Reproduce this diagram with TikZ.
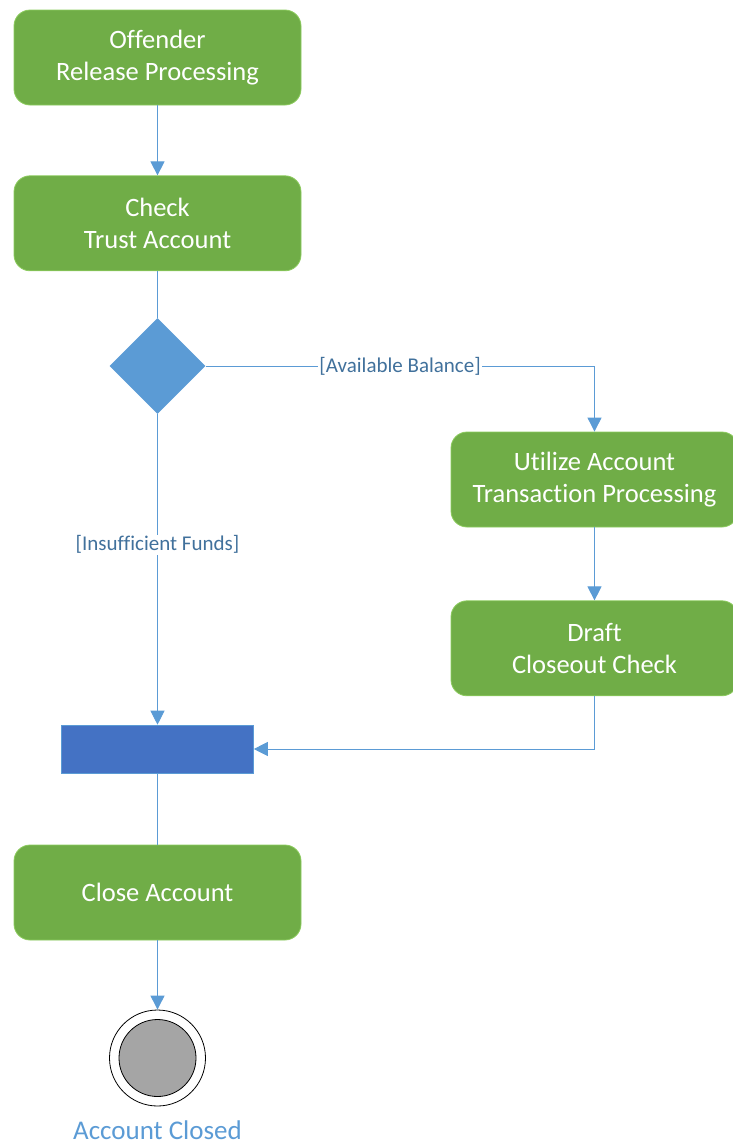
\documentclass[tikz,border=0pt]{standalone}
\usepackage{fontspec}
\setmainfont{Carlito}[Ligatures=NoCommon]
\usepackage{xcolor}
\usetikzlibrary{arrows.meta,positioning,shapes.geometric}
\definecolor{actGreen}{HTML}{70AD47}
\definecolor{actBorder}{HTML}{8CCB5E}
\definecolor{flowBlue}{HTML}{5B9BD5}
\definecolor{barBlue}{HTML}{4472C4}
\definecolor{guardBlue}{HTML}{41719C}
\definecolor{endGray}{HTML}{A5A5A5}

\begin{document}
\begin{tikzpicture}[x=1pt, y=-1pt, node distance=70pt,
    act/.style={draw=actBorder, line width=0.8pt, rounded corners=16pt, fill=actGreen, text=white,
        minimum width=287pt, minimum height=95pt, align=center,
        font=\fontsize{26.5}{32}\selectfont},
    flow/.style={draw=flowBlue, line width=0.9pt},
    tip/.style={-{Triangle[length=14pt,width=14pt]}},
    guard/.style={fill=white, text=guardBlue, inner sep=1pt, font=\fontsize{21}{24}\selectfont}]
    \useasboundingbox (0,0) rectangle (732,1146);
    \node[act] (offender) at (157.5,57.5) {Offender\\ Release Processing};
    \node[act, below=of offender] (check) {Check\\ Trust Account};
    \node[diamond, fill=flowBlue, minimum width=96pt, minimum height=96pt, inner sep=0pt] (decide) at (157.5,366) {};
    \node[act] (utilize) at (594.5,479.5) {Utilize Account\\ Transaction Processing};
    \node[act, below=73pt of utilize] (draft) {Draft\\ Closeout Check};
    \node[rectangle, fill=barBlue, draw=flowBlue, line width=0.6pt, minimum width=192pt, minimum height=48pt] (join) at (157.5,749) {};
    \node[act] (close) at (157.5,892.5) {Close Account};
    \node[circle, draw=black, line width=0.8pt, fill=white, minimum size=96pt] (final) at (157.5,1058) {};
    \node[circle, draw=black, line width=0.8pt, fill=endGray, minimum size=77pt] (finalin) at (final.center) {};
    \node[text=flowBlue, font=\fontsize{27}{30}\selectfont, inner sep=0pt, below=14pt of final] (closed) {Account Closed};

    \draw[flow, tip] (offender) -- (check);
    \draw[flow] (check) -- (decide);
    \draw[flow, tip] (decide.east) -| node[guard, pos=0.25] {[Available Balance]} (utilize.north);
    \draw[flow, tip] (decide.south) -- node[guard, pos=0.42] {[Insufficient Funds]} (join.north);
    \draw[flow, tip] (utilize) -- (draft);
    \draw[flow, tip] (draft.south) |- (join.east);
    \draw[flow] (join) -- (close);
    \draw[flow, tip] (close) -- (final);
\end{tikzpicture}
\end{document}
